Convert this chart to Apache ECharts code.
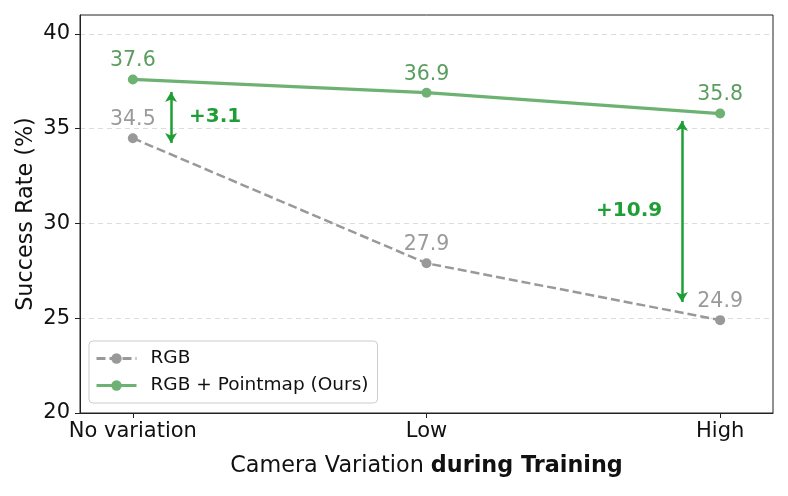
<!DOCTYPE html>
<html>
<head>
<meta charset="utf-8">
<script src="https://cdn.jsdelivr.net/npm/echarts@6/dist/echarts.min.js"></script>
</head>
<body style="margin:0;background:#fff;">
<div id="main" style="width:788px;height:496px;"></div>
<script type="text/javascript">
// categories and values
var categories = ['No variation', 'Low', 'High'];
var rgbValues = [34.5, 27.9, 24.9];
var oursValues = [37.6, 36.9, 35.8];
var yTicks = [20, 25, 30, 35, 40];

// gain arrows: x position, top, bottom, label text, label position
var arrowX = [0.13, 1.87];
var arrowTop = [36.94, 35.41];
var arrowBottom = [34.25, 25.86];
var gainText = ['+3.1', '+10.9'];
var gainLabelX = [0.28, 1.69];
var gainLabelY = [35.62, 30.66];

var font = 'DejaVu Sans';
var greenLine = '#6db272';
var greenText = '#5a9e5f';
var grayLine = '#999999';
var arrowGreen = '#1f9e36';

var myChart = echarts.init(document.getElementById('main'));

function pts(vals) {
    return vals.map(function (v, i) { return [i, v]; });
}

var option = {
    animation: false,
    textStyle: { fontFamily: font },
    grid: {
        left: 80, right: 15, top: 15, bottom: 83,
        show: true, borderColor: '#222', borderWidth: 1
    },
    legend: {
        left: 89, top: 341,
        orient: 'vertical',
        backgroundColor: '#fff',
        borderColor: '#ccc',
        borderWidth: 1,
        borderRadius: 4,
        padding: [8, 9, 8, 6],
        itemGap: 8,
        itemWidth: 40,
        itemHeight: 13,
        lineStyle: { width: 3 },
        textStyle: { fontSize: 18.5, color: '#111', fontFamily: font, padding: [0, 0, 0, 9] },
        data: ['RGB', 'RGB + Pointmap (Ours)']
    },
    xAxis: {
        type: 'value',
        min: -0.18, max: 2.18,
        name: 'Camera Variation {b|during Training}',
        nameLocation: 'middle',
        nameGap: 42,
        nameMoveOverlap: false,
        nameTextStyle: {
            fontSize: 22.3, color: '#111', fontFamily: font,
            rich: { b: { fontSize: 22.3, fontWeight: 'bold', color: '#111', fontFamily: font } }
        },
        axisLine: { onZero: false, lineStyle: { color: '#222' } },
        axisTick: { customValues: [0, 1, 2], length: 5, lineStyle: { color: '#222' } },
        axisLabel: {
            customValues: [0, 1, 2],
            fontSize: 21, color: '#111', margin: 8,
            formatter: function (v) { return categories[Math.round(v)]; }
        },
        splitLine: { show: false }
    },
    yAxis: {
        type: 'value',
        min: 20, max: 41,
        name: 'Success Rate (%)',
        nameLocation: 'middle',
        nameGap: 43,
        nameMoveOverlap: false,
        nameTextStyle: { fontSize: 22.3, color: '#111', fontFamily: font },
        axisLine: { show: true, onZero: false, lineStyle: { color: '#222' } },
        axisTick: { customValues: yTicks, length: 5, lineStyle: { color: '#222' } },
        axisLabel: { customValues: yTicks, fontSize: 21, color: '#111', margin: 10 },
        splitLine: { show: true, lineStyle: { color: '#dcdcdc', type: [5, 4] } }
    },
    series: [
        {
            name: 'RGB',
            type: 'line',
            data: pts(rgbValues),
            symbol: 'circle',
            symbolSize: 10,
            z: 2,
            lineStyle: { color: grayLine, width: 2.5, type: [9, 4] },
            itemStyle: { color: grayLine },
            label: { show: true, position: 'top', distance: 3, fontSize: 20.5, color: '#9a9a9a',
                formatter: function (p) { return p.value[1].toFixed(1); } }
        },
        {
            name: 'RGB + Pointmap (Ours)',
            type: 'line',
            data: pts(oursValues),
            symbol: 'circle',
            symbolSize: 10,
            z: 3,
            lineStyle: { color: greenLine, width: 3.2 },
            itemStyle: { color: greenLine },
            label: { show: true, position: 'top', distance: 3, fontSize: 20.5, color: greenText,
                formatter: function (p) { return p.value[1].toFixed(1); } },
            markLine: {
                silent: true,
                symbol: ['arrow', 'arrow'],
                symbolSize: [9, 10],
                label: { show: false },
                lineStyle: { color: arrowGreen, width: 2.5, type: 'solid', opacity: 1 },
                data: arrowX.map(function (x, i) {
                    return [{ coord: [x, arrowTop[i]] }, { coord: [x, arrowBottom[i]] }];
                })
            }
        },
        {
            name: 'gain',
            type: 'scatter',
            symbolSize: 0,
            silent: true,
            itemStyle: { opacity: 1 },
            data: gainLabelX.map(function (x, i) { return [x, gainLabelY[i], gainText[i]]; }),
            label: {
                show: true, position: 'inside',
                fontSize: 20, fontWeight: 'bold', color: arrowGreen, opacity: 1,
                formatter: function (p) { return p.value[2]; }
            }
        }
    ]
};

myChart.setOption(option);
</script>
</body>
</html>
